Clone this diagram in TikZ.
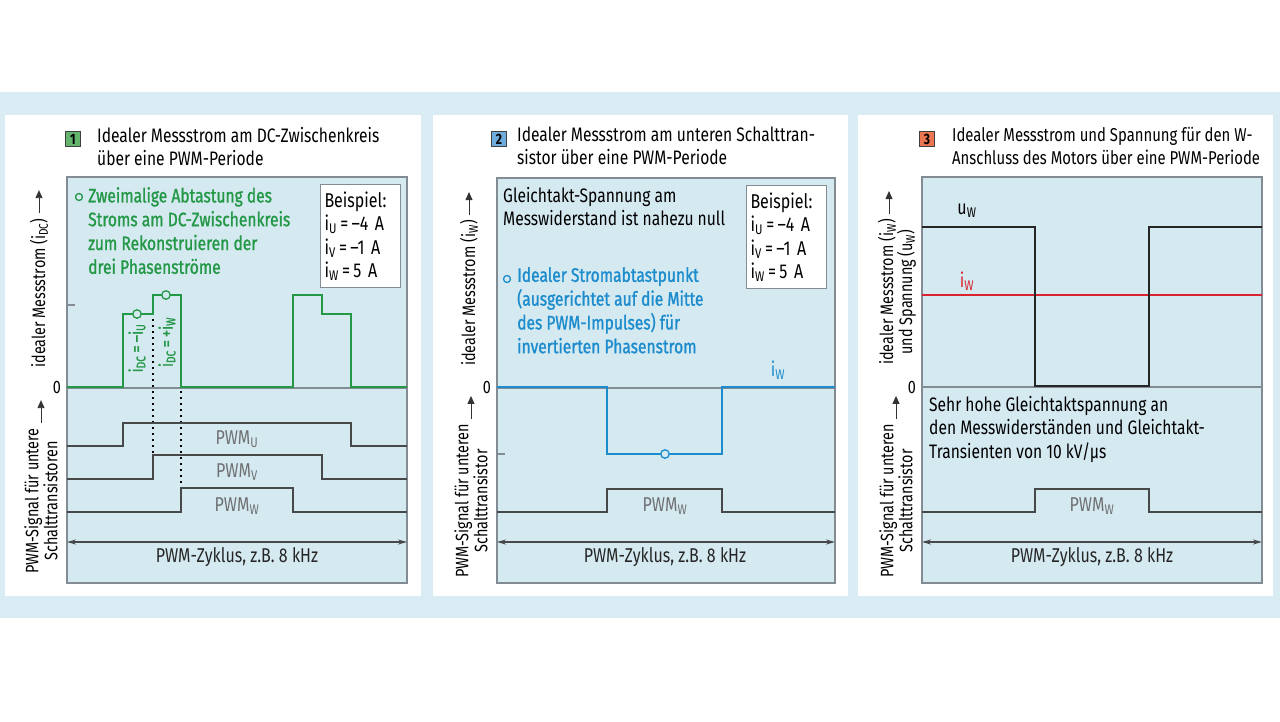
\documentclass[tikz,border=0pt]{standalone}
\usepackage{fontspec}
\setmainfont{Fira Sans}[FakeStretch=0.8]
\newfontfamily\notefont{Fira Sans}[FakeStretch=0.8,FakeBold=1.2]
\usetikzlibrary{arrows.meta}
\definecolor{band_blue}{RGB}{218,236,243}
\definecolor{plot_blue}{RGB}{213,233,241}
\definecolor{frame_gray}{RGB}{130,140,146}
\definecolor{sig_gray}{RGB}{70,72,74}
\definecolor{txt_gray}{RGB}{110,112,114}
\definecolor{meas_green}{RGB}{35,152,70}
\definecolor{meas_blue}{RGB}{28,140,205}
\definecolor{meas_red}{RGB}{218,35,45}
\definecolor{tag_green}{RGB}{100,180,110}
\definecolor{tag_blue}{RGB}{110,172,222}
\definecolor{tag_red}{RGB}{236,118,82}
\tikzstyle{plot}=[fill=plot_blue,draw=frame_gray,line width=1.2pt]
\tikzstyle{tag}=[draw=black!75,line width=0.6pt,minimum size=15pt,inner sep=0pt,
  font=\fontsize{15}{15}\selectfont\bfseries]
\tikzstyle{title}=[anchor=north west,align=left,inner sep=0pt,font=\fontsize{19.5}{23}\selectfont]
\tikzstyle{note}=[anchor=north west,align=left,inner sep=0pt,font=\fontsize{19.5}{23.5}\selectfont]
\tikzstyle{colnote}=[note,font=\fontsize{19.5}{23.8}\notefont]
\tikzstyle{example}=[anchor=north west,align=left,draw=frame_gray,fill=white,line width=1pt,
  inner sep=4pt,text width=72pt,minimum height=103pt,font=\fontsize{20}{23.5}\selectfont]
\tikzstyle{axis}=[rotate=90,align=center,inner sep=0pt,font=\fontsize{18}{17.5}\selectfont]
\tikzstyle{axisarrow}=[-{Triangle[length=8pt,width=7pt]},line width=0.9pt,black!80]
\tikzstyle{pwm}=[draw=sig_gray,line width=1.8pt]
\tikzstyle{pwmlabel}=[text=txt_gray,inner sep=0pt,font=\fontsize{20}{20}\selectfont]
\tikzstyle{period}=[{Stealth[length=9pt,width=5pt]}-{Stealth[length=9pt,width=5pt]},
  draw=sig_gray,line width=1.4pt]
\tikzstyle{sample}=[circle,draw,fill=plot_blue,line width=1.3pt,inner sep=0pt,minimum size=8.5pt]
\tikzstyle{zero}=[draw=frame_gray,line width=1.2pt]

\begin{document}
\begin{tikzpicture}[x=1pt,y=-1pt]
    \useasboundingbox (0,0) rectangle (1280,721);
    \fill[white] (0,0) rectangle (1280,721);
    \fill[band_blue] (0,92) rectangle (1280,618);
    \fill[white] (5,115) rectangle (421,596);
    \fill[white] (433,115) rectangle (848,596);
    \fill[white] (858,115) rectangle (1273,596);

    % panel 1: DC link
    \draw[plot] (67,177) rectangle (407,583);
    \node [tag,fill=tag_green] (tag1) at (73,139) {1};
    \node [title] (title1) at (97,127) {Idealer Messstrom am DC-Zwischenkreis\\über eine PWM-Periode};
    \node [sample,draw=meas_green,minimum size=7pt] (bullet1) at (79,197) {};
    \node [colnote,text=meas_green] (note1) at (88,187)
      {Zweimalige Abtastung des\\Stroms am DC-Zwischenkreis\\zum Rekonstruieren der\\drei Phasenströme};
    \node [example] (ex1) at (320,184)
      {Beispiel:\\i\textsubscript{U}\,=\,–4 A\\i\textsubscript{V}\,=\,–1 A\\i\textsubscript{W}\,=\,5 A};
    \draw[zero] (67,388) -- (407,388);
    \draw[zero] (67,305) -- (75,305);
    \draw[meas_green,line width=2.3pt] (67,387) -- (123,387) -- (123,314) -- (153,314) -- (153,295)
      -- (181,295) -- (181,387) -- (293,387) -- (293,295) -- (322,295) -- (322,314) -- (351,314)
      -- (351,387) -- (407,387);
    \draw[black,line width=1.8pt,dash pattern=on 2pt off 4pt] (153,319) -- (153,453);
    \draw[black,line width=1.8pt,dash pattern=on 2pt off 4pt] (181,391) -- (181,486);
    \node [sample,draw=meas_green] (s1) at (137,314) {};
    \node [sample,draw=meas_green] (s2) at (166,295) {};
    \node [axis,text=meas_green,font=\fontsize{18}{18}\notefont] (idc1) at (137,348)
      {i\textsubscript{DC}\,=\,–i\textsubscript{U}};
    \node [axis,text=meas_green,font=\fontsize{18}{18}\notefont] (idc2) at (167,342)
      {i\textsubscript{DC}\,=\,+i\textsubscript{W}};
    \draw[pwm] (67,446) -- (123,446) -- (123,423) -- (351,423) -- (351,446) -- (407,446);
    \draw[pwm] (67,479) -- (153,479) -- (153,455) -- (322,455) -- (322,479) -- (407,479);
    \draw[pwm] (67,512) -- (181,512) -- (181,488) -- (293,488) -- (293,512) -- (407,512);
    \node [pwmlabel] (pu1) at (237,439) {PWM\textsubscript{U}};
    \node [pwmlabel] (pv1) at (237,472) {PWM\textsubscript{V}};
    \node [pwmlabel] (pw1) at (237,506) {PWM\textsubscript{W}};
    \coordinate (c1a) at (67,542);
    \coordinate (c1b) at (407,542);
    \draw[period] (c1a) -- (c1b);
    \node [pwmlabel,text=black!85] (cyc1) at (237,557) {PWM-Zyklus, z.B. 8 kHz};
    \node [font=\fontsize{18}{18}\selectfont] (zero1) at (57,387) {0};
    \node [axis] (ay1) at (39,293) {idealer Messstrom (i\textsubscript{DC})};
    \draw[axisarrow] ([yshift=5pt]ay1.east) -- ([yshift=28pt]ay1.east);
    \node [axis] (ly1) at (41,501) {PWM-Signal für untere\\Schalttransistoren};
    \draw[axisarrow] ([yshift=5pt]ly1.east) -- ([yshift=28pt]ly1.east);

    % panel 2: lower switching transistor
    \draw[plot] (497,178) rectangle (835,583);
    \node [tag,fill=tag_blue] (tag2) at (499,139) {2};
    \node [title] (title2) at (517,127) {Idealer Messstrom am unteren Schalttran-\\sistor über eine PWM-Periode};
    \node [note] (note2) at (503,187) {Gleichtakt-Spannung am\\Messwiderstand ist nahezu null};
    \node [sample,draw=meas_blue,minimum size=7pt] (bullet2) at (507,279) {};
    \node [colnote,text=meas_blue] (note3) at (517,267)
      {Idealer Stromabtastpunkt\\(ausgerichtet auf die Mitte\\des PWM-Impulses) für\\invertierten Phasenstrom};
    \node [example] (ex2) at (746,185)
      {Beispiel:\\i\textsubscript{U}\,=\,–4 A\\i\textsubscript{V}\,=\,–1 A\\i\textsubscript{W}\,=\,5 A};
    \draw[zero] (497,388) -- (835,388);
    \draw[zero] (497,454) -- (505,454);
    \draw[meas_blue,line width=2.3pt] (497,387) -- (607,387) -- (607,454) -- (722,454) -- (722,387)
      -- (835,387);
    \node [sample,draw=meas_blue] (s3) at (665,454) {};
    \node [pwmlabel,text=meas_blue] (iw2) at (778,370) {i\textsubscript{W}};
    \draw[pwm] (497,512) -- (607,512) -- (607,489) -- (722,489) -- (722,512) -- (835,512);
    \node [pwmlabel] (pw2) at (665,506) {PWM\textsubscript{W}};
    \coordinate (c2a) at (497,542);
    \coordinate (c2b) at (835,542);
    \draw[period] (c2a) -- (c2b);
    \node [pwmlabel,text=black!85] (cyc2) at (665,557) {PWM-Zyklus, z.B. 8 kHz};
    \node [font=\fontsize{18}{18}\selectfont] (zero2) at (487,387) {0};
    \node [axis] (ay2) at (469,293) {idealer Messstrom (i\textsubscript{W})};
    \draw[axisarrow] ([yshift=5pt]ay2.east) -- ([yshift=28pt]ay2.east);
    \node [axis] (ly2) at (471,501) {PWM-Signal für unteren\\Schalttransistor};
    \draw[axisarrow] ([yshift=5pt]ly2.east) -- ([yshift=28pt]ly2.east);

    % panel 3: W terminal of the motor
    \draw[plot] (922,177) rectangle (1262,583);
    \node [tag,fill=tag_red] (tag3) at (927,139) {3};
    \node [title,font=\fontsize{18.6}{23}\selectfont] (title3) at (952,127)
      {Idealer Messstrom und Spannung für den W-\\Anschluss des Motors über eine PWM-Periode};
    \draw[zero] (922,387) -- (1262,387);
    \draw[meas_red,line width=1.6pt] (922,295) -- (1262,295);
    \draw[black!85,line width=2.2pt] (922,227) -- (1035,227) -- (1035,386) -- (1149,386) -- (1149,227)
      -- (1262,227);
    \node [pwmlabel,text=black] (uw3) at (967,211) {u\textsubscript{W}};
    \node [pwmlabel,text=meas_red] (iw3) at (967,281) {i\textsubscript{W}};
    \node [note] (note4) at (929,396)
      {Sehr hohe Gleichtaktspannung an\\den Messwiderständen und Gleichtakt-\\Transienten von 10 kV/µs};
    \draw[pwm] (922,512) -- (1035,512) -- (1035,489) -- (1149,489) -- (1149,512) -- (1262,512);
    \node [pwmlabel] (pw3) at (1092,506) {PWM\textsubscript{W}};
    \coordinate (c3a) at (922,542);
    \coordinate (c3b) at (1262,542);
    \draw[period] (c3a) -- (c3b);
    \node [pwmlabel,text=black!85] (cyc3) at (1092,557) {PWM-Zyklus, z.B. 8 kHz};
    \node [font=\fontsize{18}{18}\selectfont] (zero3) at (912,387) {0};
    \node [axis] (ay3) at (897,292) {idealer Messstrom (i\textsubscript{W})\\und Spannung (u\textsubscript{W})};
    \draw[axisarrow] ([xshift=-8pt,yshift=5pt]ay3.east) -- ([xshift=-8pt,yshift=28pt]ay3.east);
    \node [axis] (ly3) at (896,501) {PWM-Signal für unteren\\Schalttransistor};
    \draw[axisarrow] ([yshift=5pt]ly3.east) -- ([yshift=28pt]ly3.east);
\end{tikzpicture}
\end{document}
